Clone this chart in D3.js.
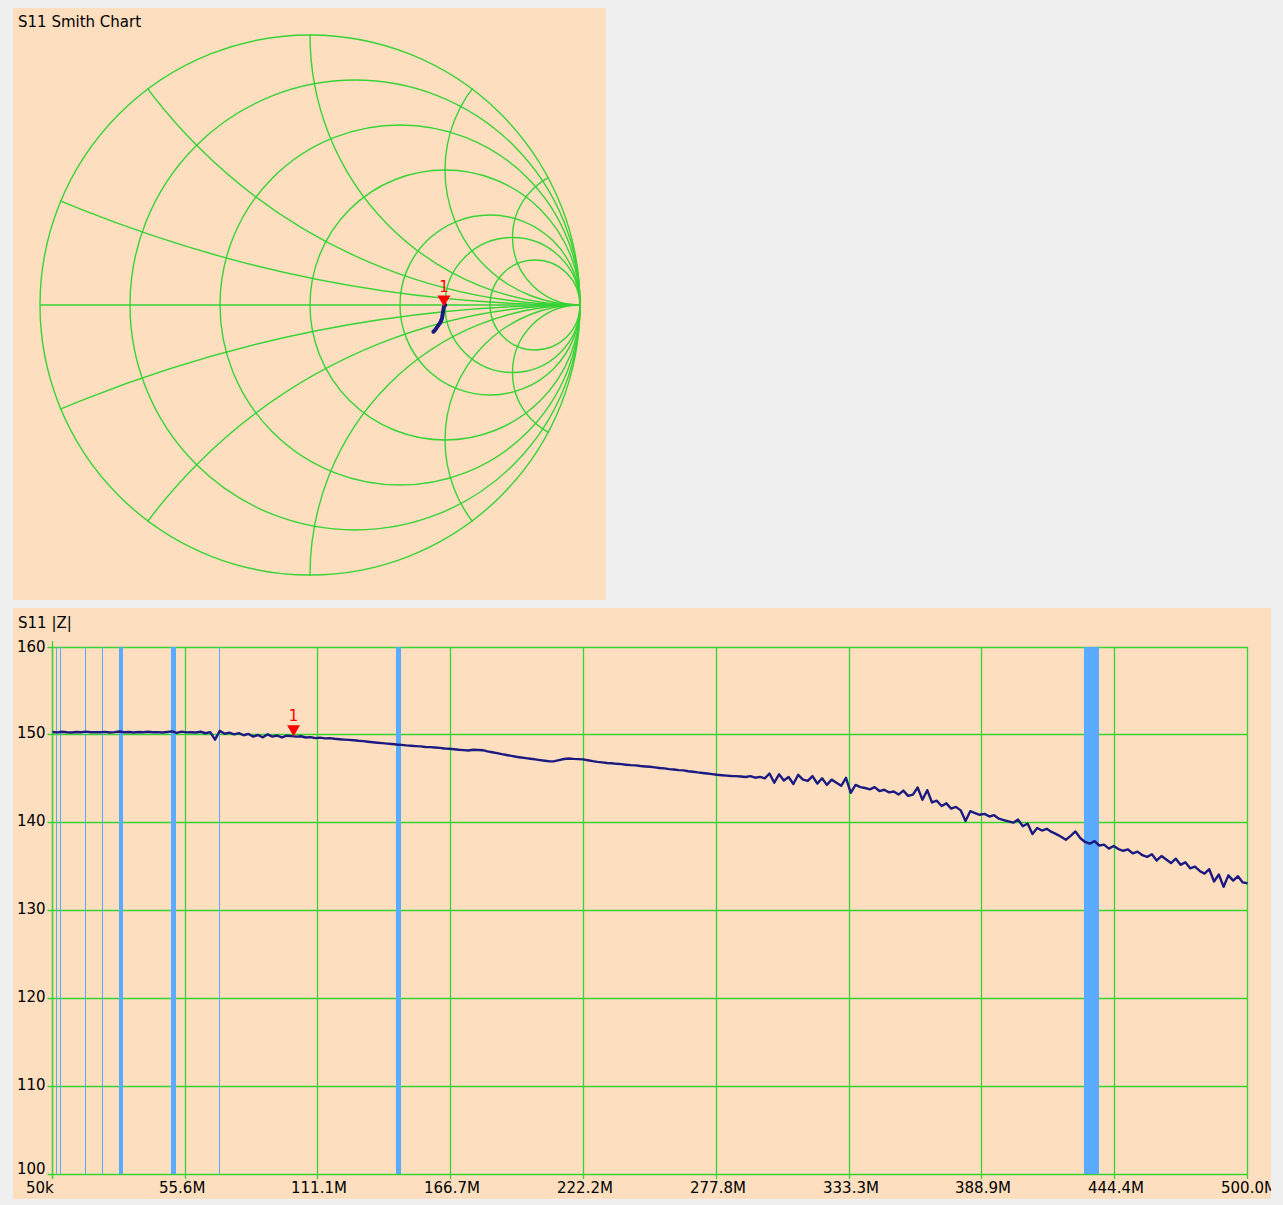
<!DOCTYPE html>
<html>
<head>
<meta charset="utf-8">
<script src="https://cdn.jsdelivr.net/npm/d3@7"></script>
<style>
  html, body { margin: 0; padding: 0; background: #f0f0f0; }
  svg { display: block; font-family: "DejaVu Sans", sans-serif; }
</style>
</head>
<body>
<svg id="chart" width="1283" height="1205"></svg>
<script>
// ---- Sweep definition (start / stop of the VNA sweep, one |Z| sample per point) ----
const sweepStartHz = 50e3;
const sweepStopHz = 500e6;

// |Z| in ohms along the sweep
const impedanceMag = [
  150.32,150.28,150.35,150.30,150.27,150.33,150.30,150.36,150.29,150.31,
  150.30,150.34,150.27,150.31,150.38,150.30,150.33,150.26,150.32,150.30,
  150.35,150.29,150.31,150.27,150.33,150.40,150.22,150.36,150.28,150.30,
  150.26,150.35,150.18,150.30,149.45,150.45,150.12,150.25,150.05,150.20,
  149.95,150.10,149.80,149.98,149.72,150.05,149.80,149.92,149.70,149.90,
  149.85,149.80,149.84,149.70,149.74,149.62,149.68,149.60,149.63,149.55,
  149.50,149.46,149.42,149.38,149.32,149.28,149.22,149.16,149.10,149.05,
  149.00,148.96,148.90,148.86,148.80,148.76,148.72,148.68,148.62,148.60,
  148.56,148.52,148.45,148.42,148.36,148.30,148.26,148.22,148.30,148.28,
  148.25,148.12,148.02,147.92,147.80,147.70,147.60,147.50,147.42,147.35,
  147.28,147.20,147.12,147.05,146.98,147.00,147.12,147.25,147.30,147.26,
  147.24,147.20,147.10,147.00,146.92,146.86,146.80,146.76,146.70,146.66,
  146.60,146.55,146.52,146.45,146.40,146.36,146.30,146.22,146.18,146.10,
  146.05,145.98,145.95,145.86,145.80,145.72,145.66,145.60,145.52,145.45,
  145.40,145.36,145.32,145.30,145.26,145.20,145.30,145.12,145.22,145.05,
  145.60,144.55,145.50,144.80,145.20,144.40,145.45,144.90,144.75,145.30,
  144.45,145.05,144.30,144.90,144.55,144.20,145.10,143.40,144.30,144.05,
  143.95,143.80,144.05,143.60,143.75,143.45,143.55,143.20,143.65,143.05,
  143.20,144.00,142.60,143.70,142.30,142.50,141.90,142.20,141.60,141.80,
  141.40,140.20,141.30,141.10,140.90,141.00,140.70,140.85,140.45,140.30,
  140.15,140.00,140.35,139.60,139.90,138.70,139.40,139.10,139.30,138.95,
  138.70,138.40,138.05,138.50,139.00,138.25,137.80,137.60,137.90,137.40,
  137.50,137.05,137.35,137.00,136.80,136.95,136.50,136.70,136.30,136.10,
  136.40,135.70,136.20,135.80,135.40,135.90,135.20,135.50,134.80,135.00,
  134.50,134.20,134.70,133.30,134.10,132.70,134.00,133.40,133.90,133.20,
  133.10
];

// S11 reflection coefficient (real / imaginary) of the trace on the Smith chart
const s11Re = [0.501, 0.499, 0.496, 0.492, 0.489, 0.484, 0.479, 0.470, 0.463, 0.457];
const s11Im = [0.000, -0.003, -0.006, -0.030, -0.049, -0.062, -0.070, -0.083, -0.093, -0.099];
const smithMarkerIndex = 2;

// Marker 1 frequency
const markerHz = 100.9e6;
const markerLabel = "1";

// Axis ticks of the |Z| chart
const yTickValues = [100, 110, 120, 130, 140, 150, 160];
const xTickHz = [0.05e6, 55.6e6, 111.1e6, 166.7e6, 222.2e6, 277.8e6, 333.3e6, 388.9e6, 444.4e6, 500.0e6];
const xTickLabels = ["50k", "55.6M", "111.1M", "166.7M", "222.2M", "277.8M", "333.3M", "388.9M", "444.4M", "500.0M"];

// Amateur bands highlighted on the frequency chart (MHz)
const bandNames = ["160 m", "80 m", "20 m", "15 m", "10 m", "6 m", "4 m", "2 m", "70 cm"];
const bandLowMHz  = [1.8, 3.5, 14.0, 21.0, 28.0, 50.0, 70.0, 144.0, 432.0];
const bandHighMHz = [2.0, 3.8, 14.35, 21.45, 29.7, 52.0, 70.5, 146.0, 438.0];

// Smith chart grid
const resistanceCircles = [0, 0.2, 0.5, 1, 2, 3, 5];
const reactanceCircles = [0.2, 0.5, 1, 2, 4];

// ---- Styling ----
const PANEL = "#fddfbf";
const GRID = "#36d236";
const TRACE = "#1a1a80";
const BAND = "#5aaaff";
const MARKER = "#ff0000";
const TEXT = "#000000";
const FONT = 15;

const svg = d3.select("#chart");

// ===================== Smith chart =====================
svg.append("rect").attr("x", 13).attr("y", 8).attr("width", 593).attr("height", 592).attr("fill", PANEL);
svg.append("text").attr("x", 18).attr("y", 27).attr("font-size", FONT).attr("fill", TEXT).text("S11 Smith Chart");

const sx = d3.scaleLinear().domain([-1, 1]).range([40, 580]);
const sy = d3.scaleLinear().domain([-1, 1]).range([575, 35]);
const unit = sx(1) - sx(0);

const defs = svg.append("defs");
defs.append("clipPath").attr("id", "unit-disk")
  .append("circle").attr("cx", sx(0)).attr("cy", sy(0)).attr("r", unit + 1);
defs.append("clipPath").attr("id", "freq-panel")
  .append("rect").attr("x", 13).attr("y", 608).attr("width", 1258).attr("height", 591);

const smith = svg.append("g").attr("fill", "none").attr("stroke", GRID).attr("stroke-width", 1.4);

smith.append("line")
  .attr("x1", sx(-1)).attr("x2", sx(1)).attr("y1", sy(0)).attr("y2", sy(0));

smith.selectAll("circle.res").data(resistanceCircles).join("circle")
  .attr("class", "res")
  .attr("cx", r => sx(r / (1 + r)))
  .attr("cy", sy(0))
  .attr("r", r => unit / (1 + r));

const reactanceBoth = reactanceCircles.flatMap(v => [v, -v]);
smith.append("g").attr("clip-path", "url(#unit-disk)")
  .selectAll("circle").data(reactanceBoth).join("circle")
  .attr("cx", sx(1))
  .attr("cy", v => sy(1 / v))
  .attr("r", v => unit / Math.abs(v));

const smithPts = s11Re.map((re, i) => [re, s11Im[i]]);
svg.append("path")
  .datum(smithPts)
  .attr("fill", "none").attr("stroke", TRACE).attr("stroke-width", 4)
  .attr("stroke-linecap", "round").attr("stroke-linejoin", "round")
  .attr("d", d3.line().x(d => sx(d[0])).y(d => sy(d[1])));

function drawMarker(g, tx, ty) {
  g.append("path")
    .attr("d", `M${tx - 6.5},${ty - 11}L${tx + 6.5},${ty - 11}L${tx},${ty}Z`)
    .attr("fill", MARKER);
  g.append("text")
    .attr("x", tx).attr("y", ty - 15)
    .attr("text-anchor", "middle").attr("font-size", FONT).attr("fill", MARKER)
    .text(markerLabel);
}
const sm = smithPts[smithMarkerIndex];
drawMarker(svg.append("g"), sx(sm[0]), sy(sm[1]));

// ===================== |Z| frequency chart =====================
svg.append("rect").attr("x", 13).attr("y", 608).attr("width", 1258).attr("height", 591).attr("fill", PANEL);
svg.append("text").attr("x", 18).attr("y", 628).attr("font-size", FONT).attr("fill", TEXT).text("S11 |Z|");

const x = d3.scaleLinear().domain([sweepStartHz, sweepStopHz]).range([52.5, 1247.5]);
const y = d3.scaleLinear().domain([100, 160]).range([1174, 647]);
const plotTop = y(160), plotBottom = y(100), plotLeft = x(sweepStartHz), plotRight = x(sweepStopHz);
const crisp = v => Math.floor(v) + 0.5;

const fc = svg.append("g").attr("clip-path", "url(#freq-panel)");
const grid = fc.append("g").attr("stroke", GRID).attr("stroke-width", 1.3);

// horizontal grid with left ticks
grid.selectAll("line.h").data(yTickValues).join("line")
  .attr("class", "h")
  .attr("x1", plotLeft - 5).attr("x2", plotRight)
  .attr("y1", v => crisp(y(v))).attr("y2", v => crisp(y(v)));

// vertical grid with bottom ticks
grid.selectAll("line.v").data(xTickHz).join("line")
  .attr("class", "v")
  .attr("x1", f => crisp(x(f))).attr("x2", f => crisp(x(f)))
  .attr("y1", plotTop).attr("y2", plotBottom + 5);

// left axis extends slightly above the plot
grid.append("line")
  .attr("x1", crisp(plotLeft)).attr("x2", crisp(plotLeft))
  .attr("y1", plotTop - 6).attr("y2", plotBottom + 5);

// band highlights
const bands = bandNames.map((name, i) => ({ name, lo: bandLowMHz[i] * 1e6, hi: bandHighMHz[i] * 1e6 }));
fc.append("g").selectAll("rect").data(bands).join("rect")
  .attr("x", b => Math.floor(x(b.lo)))
  .attr("width", b => Math.floor(x(b.hi)) - Math.floor(x(b.lo)))
  .attr("y", Math.floor(plotTop))
  .attr("height", Math.floor(plotBottom) - Math.floor(plotTop))
  .attr("fill", BAND);

// y labels
fc.append("g").selectAll("text").data(yTickValues).join("text")
  .attr("x", 17)
  .attr("y", v => {
    const gy = Math.floor(y(v));
    if (v === 160) return gy + 5;
    if (v === 100) return gy;
    return gy + 4;
  })
  .attr("font-size", FONT).attr("fill", TEXT)
  .text(v => String(v));

// x labels
fc.append("g").selectAll("text").data(xTickHz).join("text")
  .attr("x", f => Math.floor(x(f)) - 26)
  .attr("y", plotBottom + 19)
  .attr("font-size", FONT).attr("fill", TEXT)
  .text((f, i) => xTickLabels[i]);

// |Z| trace
const step = (sweepStopHz - sweepStartHz) / (impedanceMag.length - 1);
const zPts = impedanceMag.map((v, i) => [sweepStartHz + i * step, v]);
fc.append("path")
  .datum(zPts)
  .attr("fill", "none").attr("stroke", TRACE).attr("stroke-width", 2.4)
  .attr("stroke-linejoin", "round")
  .attr("d", d3.line().x(d => x(d[0])).y(d => y(d[1])));

// marker 1 on the |Z| trace
const mi = Math.min(impedanceMag.length - 2, Math.floor((markerHz - sweepStartHz) / step));
const mt = (markerHz - zPts[mi][0]) / step;
const mv = zPts[mi][1] + (zPts[mi + 1][1] - zPts[mi][1]) * mt;
drawMarker(fc.append("g"), x(markerHz), y(mv));
</script>
</body>
</html>
